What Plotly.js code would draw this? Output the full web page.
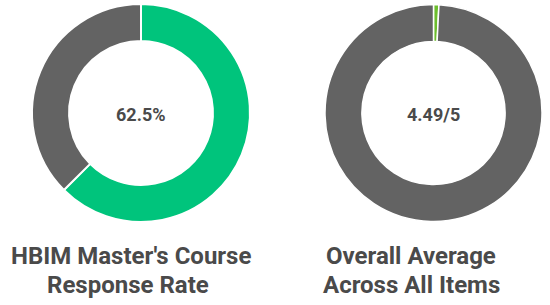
<!DOCTYPE html>
<html>
<head>
<meta charset="utf-8">
<script src="https://cdn.plot.ly/plotly-3.0.1.min.js"></script>
<style>html,body{margin:0;padding:0;background:#fff;}#chart{width:550px;height:305px;}</style>
</head>
<body>
<div id="chart"></div>
<script>
var sliceLabels = ["Score", "Remainder"];
var responseValues = [62.5, 37.5];
var averageValues = [0.8, 99.2];
var responseColors = ["#00C47C", "#636363"];
var averageColors = ["#6DBE2E", "#636363"];
var centerLabels = ["62.5%", "4.49/5"];
var leftTitleLines = ["HBIM Master's Course", "Response Rate"];
var rightTitleLines = ["Overall Average", "Across All Items"];

var H = 305, W = 550;
function py(p){ return 1 - p / H; }
function px(p){ return p / W; }

var common = {
  type: "pie", hole: 0.66, sort: false, direction: "clockwise", rotation: 0,
  textinfo: "none", hoverinfo: "label+value", showlegend: false
};
var data = [
  Object.assign({}, common, {
    labels: sliceLabels, values: responseValues,
    marker: {colors: responseColors, line: {color: "#ffffff", width: 2}},
    domain: {x: [px(32), px(250)], y: [py(222), py(4)]}
  }),
  Object.assign({}, common, {
    labels: sliceLabels, values: averageValues,
    marker: {colors: averageColors, line: {color: "#ffffff", width: 1.5}},
    domain: {x: [px(325), px(542)], y: [py(222), py(4)]}
  })
];

var titleFont = {family: "Roboto, Arial, sans-serif", size: 24, color: "#4a4a4a", weight: 700};
var centerFont = {family: "Roboto, Arial, sans-serif", size: 18, color: "#4a4a4a", weight: 700};

function ann(text, x, y, font){
  return {text: "<b>" + text + "</b>", x: px(x), y: py(y), xref: "paper", yref: "paper",
    showarrow: false, xanchor: "center", yanchor: "middle", font: font, borderpad: 0};
}
var annotations = [
  ann(centerLabels[0], 141, 115, centerFont),
  ann(centerLabels[1], 433, 115, centerFont),
  ann(leftTitleLines[0], 131, 256, titleFont),
  ann(leftTitleLines[1], 128, 285, titleFont),
  ann(rightTitleLines[0], 411, 256, titleFont),
  ann(rightTitleLines[1], 411, 285, titleFont)
];

var layout = {
  width: W, height: H,
  margin: {l: 0, r: 0, t: 0, b: 0},
  paper_bgcolor: "#ffffff", plot_bgcolor: "#ffffff",
  annotations: annotations
};
Plotly.newPlot("chart", data, layout, {displayModeBar: false, staticPlot: true});
</script>
</body>
</html>
